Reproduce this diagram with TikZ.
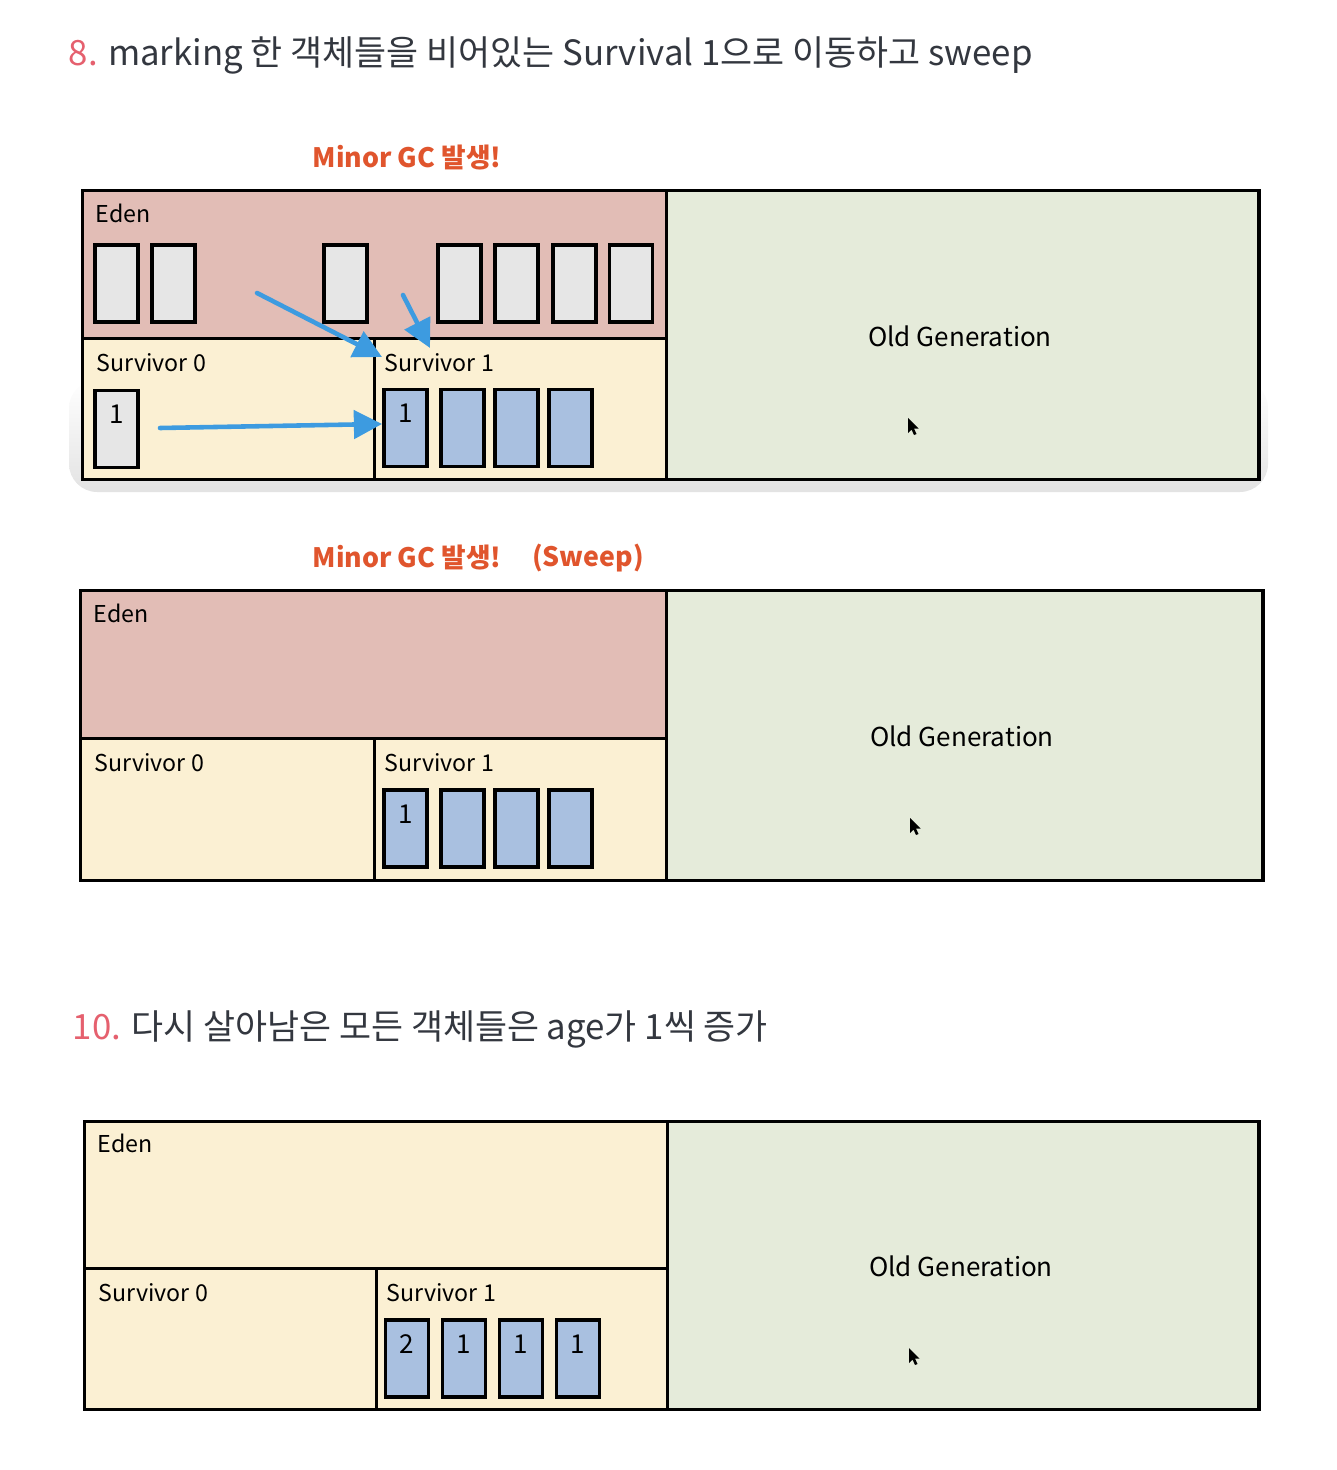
\documentclass[tikz,border=0pt]{standalone}
\usepackage{fontspec}
\setmainfont{Noto Sans CJK KR}
\usetikzlibrary{arrows.meta,positioning}
\definecolor{edenpink}{HTML}{E2BDB6}
\definecolor{survcream}{HTML}{FBF0D3}
\definecolor{oldgreen}{HTML}{E5EBDA}
\definecolor{objgray}{HTML}{E6E6E6}
\definecolor{objblue}{HTML}{A9C0E0}
\definecolor{gcred}{HTML}{E0552D}
\definecolor{steppink}{HTML}{E5606E}
\definecolor{titlegray}{HTML}{33373F}
\definecolor{movblue}{HTML}{3D9BE0}

\tikzset{
  cursor/.pic={
    \fill[black] (0,0) -- (0,15) -- (3.5,11.5) -- (6,17) -- (8.5,16) -- (6,10.5) -- (10.5,10.5) -- cycle;
  }
}

\begin{document}
\begin{tikzpicture}[x=0.01cm,y=-0.01cm,
    region/.style={draw=black, line width=0.9pt, anchor=north west, inner sep=0pt},
    gobj/.style={draw=black, line width=0.9pt, fill=objgray, minimum width=0.43cm, minimum height=0.77cm, inner sep=0pt},
    bobj/.style={gobj, fill=objblue},
    age/.style={label={[anchor=north, yshift=-4.5pt, inner sep=0pt, font=\fontsize{7.4}{9}\selectfont]north:#1}},
    tag/.style={anchor=west, inner sep=0pt, font=\fontsize{6.6}{8}\selectfont},
    oldtag/.style={inner sep=0pt, font=\fontsize{7.4}{9}\selectfont},
    gc/.style={inner sep=0pt, text=gcred, font=\bfseries\fontsize{7.6}{10}\selectfont},
    steptitle/.style={anchor=west, inner sep=0pt, text=titlegray, font=\fontsize{9.9}{12}\selectfont},
    mover/.style={draw=movblue, line width=1.3pt, line cap=round, -{Triangle[length=8pt,width=8pt]}}
]
\useasboundingbox (0,0) rectangle (1336,1470);

% ---- step 8 ----
\node[steptitle] (step8) at (68,55) {\textcolor{steppink}{8.} marking 한 객체들을 비어있는 Survival 1으로 이동하고 sweep};
\node[gc] (gc1) at (407,158) {Minor GC 발생!};

\shade[top color=white, bottom color=black!11, rounded corners=8] (69,380) rectangle (1268,492);
\node[region, fill=edenpink, minimum width=5.84cm, minimum height=1.48cm] (eden1) at (81,189) {};
\node[region, fill=survcream, minimum width=2.92cm, minimum height=1.41cm] (surva1) at (81,337) {};
\node[region, fill=survcream, minimum width=2.92cm, minimum height=1.41cm] (survb1) at (373,337) {};
\node[region, fill=oldgreen, minimum width=5.92cm, minimum height=2.89cm] (old1) at (665,189) {};

\node[tag] (edentag1) at (95,213) {Eden};
\node[tag] (suratag1) at (96,363) {Survivor 0};
\node[tag] (surbtag1) at (384,363) {Survivor 1};
\node[oldtag] (oldtag1) at (960,336) {Old Generation};
\pic at (908,418) {cursor};

\foreach \x [count=\i] in {116.5,173.5,345.5,459.5,516.5,574.5,631}
    \node[gobj] (obj1e\i) at (\x,283.5) {};
\node[gobj, age=1] (obj1a) at (116.5,429) {};
\node[bobj, age=1] (obj1b1) at (405.5,428) {};
\foreach \x [count=\i from 2] in {462.5,516.5,570.5}
    \node[bobj] (obj1b\i) at (\x,428) {};

\coordinate (mv1s) at (257,293);
\coordinate (mv1e) at (382,357);
\coordinate (mv2s) at (403,295);
\coordinate (mv2e) at (430,348);
\coordinate (mv3s) at (160,428);
\coordinate (mv3e) at (382,424);
\draw[mover] (mv1s) -- (mv1e);
\draw[mover] (mv2s) -- (mv2e);
\draw[mover] (mv3s) -- (mv3e);

% ---- sweep ----
\node[gc] (gc2) at (407,558) {Minor GC 발생!};
\node[gc] (gc2s) at (588,558) {(Sweep)};

\node[region, fill=edenpink, minimum width=5.86cm, minimum height=1.48cm] (eden2) at (79,589) {};
\node[region, fill=survcream, minimum width=2.94cm, minimum height=1.42cm] (surva2) at (79,737) {};
\node[region, fill=survcream, minimum width=2.92cm, minimum height=1.42cm] (survb2) at (373,737) {};
\node[region, fill=oldgreen, minimum width=5.96cm, minimum height=2.90cm] (old2) at (665,589) {};

\node[tag] (edentag2) at (93,613) {Eden};
\node[tag] (suratag2) at (94,763) {Survivor 0};
\node[tag] (surbtag2) at (384,763) {Survivor 1};
\node[oldtag] (oldtag2) at (962,736) {Old Generation};
\pic at (910,818) {cursor};

\node[bobj, age=1] (obj2b1) at (405.5,828.5) {};
\foreach \x [count=\i from 2] in {462.5,516.5,570.5}
    \node[bobj] (obj2b\i) at (\x,828.5) {};

% ---- step 10 ----
\node[steptitle] (step10) at (72,1029) {\textcolor{steppink}{10.} 다시 살아남은 모든 객체들은 age가 1씩 증가};

\node[region, fill=survcream, minimum width=5.83cm, minimum height=1.47cm] (eden3) at (83,1120) {};
\node[region, fill=survcream, minimum width=2.92cm, minimum height=1.41cm] (surva3) at (83,1267) {};
\node[region, fill=survcream, minimum width=2.91cm, minimum height=1.41cm] (survb3) at (375,1267) {};
\node[region, fill=oldgreen, minimum width=5.91cm, minimum height=2.88cm] (old3) at (666,1120) {};

\node[tag] (edentag3) at (97,1143) {Eden};
\node[tag] (suratag3) at (98,1293) {Survivor 0};
\node[tag] (surbtag3) at (386,1293) {Survivor 1};
\node[oldtag] (oldtag3) at (961,1266) {Old Generation};
\pic at (909,1348) {cursor};

\foreach \x/\n [count=\i] in {407/2,464/1,521/1,578/1}
    \node[bobj, age=\n] (obj3b\i) at (\x,1358.5) {};

\end{tikzpicture}
\end{document}
